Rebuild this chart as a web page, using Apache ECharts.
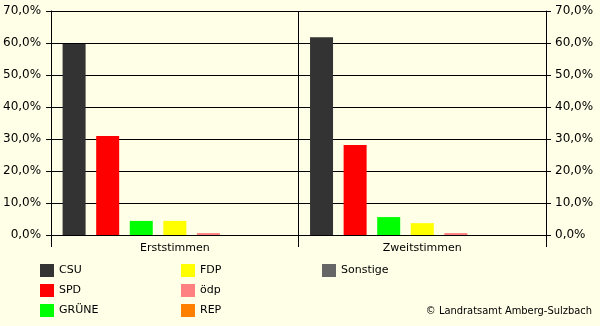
<!DOCTYPE html>
<html>
<head>
<meta charset="utf-8">
<script src="https://cdn.jsdelivr.net/npm/echarts@6/dist/echarts.min.js"></script>
<style>
  html, body { margin: 0; padding: 0; background: #ffffe8; }
  #chart { width: 600px; height: 326px; }
</style>
</head>
<body>
<div id="chart"></div>
<script>
// Wahlergebnis in Prozent, Erst- und Zweitstimmen
const categories = ['Erststimmen', 'Zweitstimmen'];
const parties = ['CSU', 'SPD', 'GRÜNE', 'FDP', 'ödp', 'REP', 'Sonstige'];
const partyColors = ['#333333', '#ff0000', '#00ff00', '#ffff00', '#ff8080', '#ff8000', '#666666'];
const csu = [59.7, 61.8];
const spd = [30.9, 28.1];
const gruene = [4.4, 5.6];
const fdp = [4.4, 3.7];
const oedp = [0.6, 0.6];
const rep = [0, 0];
const sonstige = [0, 0];
const seriesValues = [csu, spd, gruene, fdp, oedp, rep, sonstige];
const yTicks = { min: 0, max: 70, step: 10 };

const font = 'DejaVu Sans';
const pct = v => v.toFixed(1).replace('.', ',') + '%';

const yAxisBase = {
  type: 'value',
  min: yTicks.min,
  max: yTicks.max,
  interval: yTicks.step,
  axisLine: { show: true, lineStyle: { color: '#000', width: 1 } },
  axisTick: { show: true, length: 5, lineStyle: { color: '#000' } },
  splitLine: { show: true, lineStyle: { color: '#000', width: 1 } },
  axisLabel: { formatter: pct, color: '#000', fontFamily: font, fontSize: 12 }
};

const chart = echarts.init(document.getElementById('chart'), null, { renderer: 'canvas' });
chart.setOption({
  animation: false,
  backgroundColor: '#ffffe8',
  grid: { left: 50, right: 54, top: 11, bottom: 91, containLabel: false },
  xAxis: {
    type: 'category',
    data: categories,
    axisLine: { show: true, lineStyle: { color: '#000' } },
    axisTick: { show: true, length: 12, alignWithLabel: false, lineStyle: { color: '#000' } },
    splitLine: { show: true, lineStyle: { color: '#000' } },
    axisLabel: { color: '#000', fontFamily: font, fontSize: 11, margin: 8 }
  },
  yAxis: [
    Object.assign({}, yAxisBase, { position: 'left', axisLabel: Object.assign({}, yAxisBase.axisLabel, { margin: 10 }) }),
    Object.assign({}, yAxisBase, { position: 'right', splitLine: { show: false }, axisLabel: Object.assign({}, yAxisBase.axisLabel, { margin: 9 }) })
  ],
  legend: [
    [0, 3, 40], [3, 6, 181], [6, 7, 322]
  ].map(([a, b, x]) => ({
    data: parties.slice(a, b),
    orient: 'vertical',
    left: x,
    top: 264,
    itemWidth: 14,
    itemHeight: 13,
    itemGap: 7,
    icon: 'rect',
    selectedMode: false,
    padding: 0,
    textStyle: { color: '#000', fontFamily: font, fontSize: 11 }
  })),
  graphic: [{
    type: 'text',
    right: 8,
    top: 306,
    style: {
      text: '© Landratsamt Amberg-Sulzbach',
      fill: '#000',
      font: '11px "DejaVu Sans Condensed", "DejaVu Sans"'
    }
  }],
  series: parties.map((name, i) => ({
    name: name,
    type: 'bar',
    data: seriesValues[i],
    barWidth: 23,
    barGap: '46%',
    itemStyle: { color: partyColors[i] }
  }))
});
</script>
</body>
</html>
